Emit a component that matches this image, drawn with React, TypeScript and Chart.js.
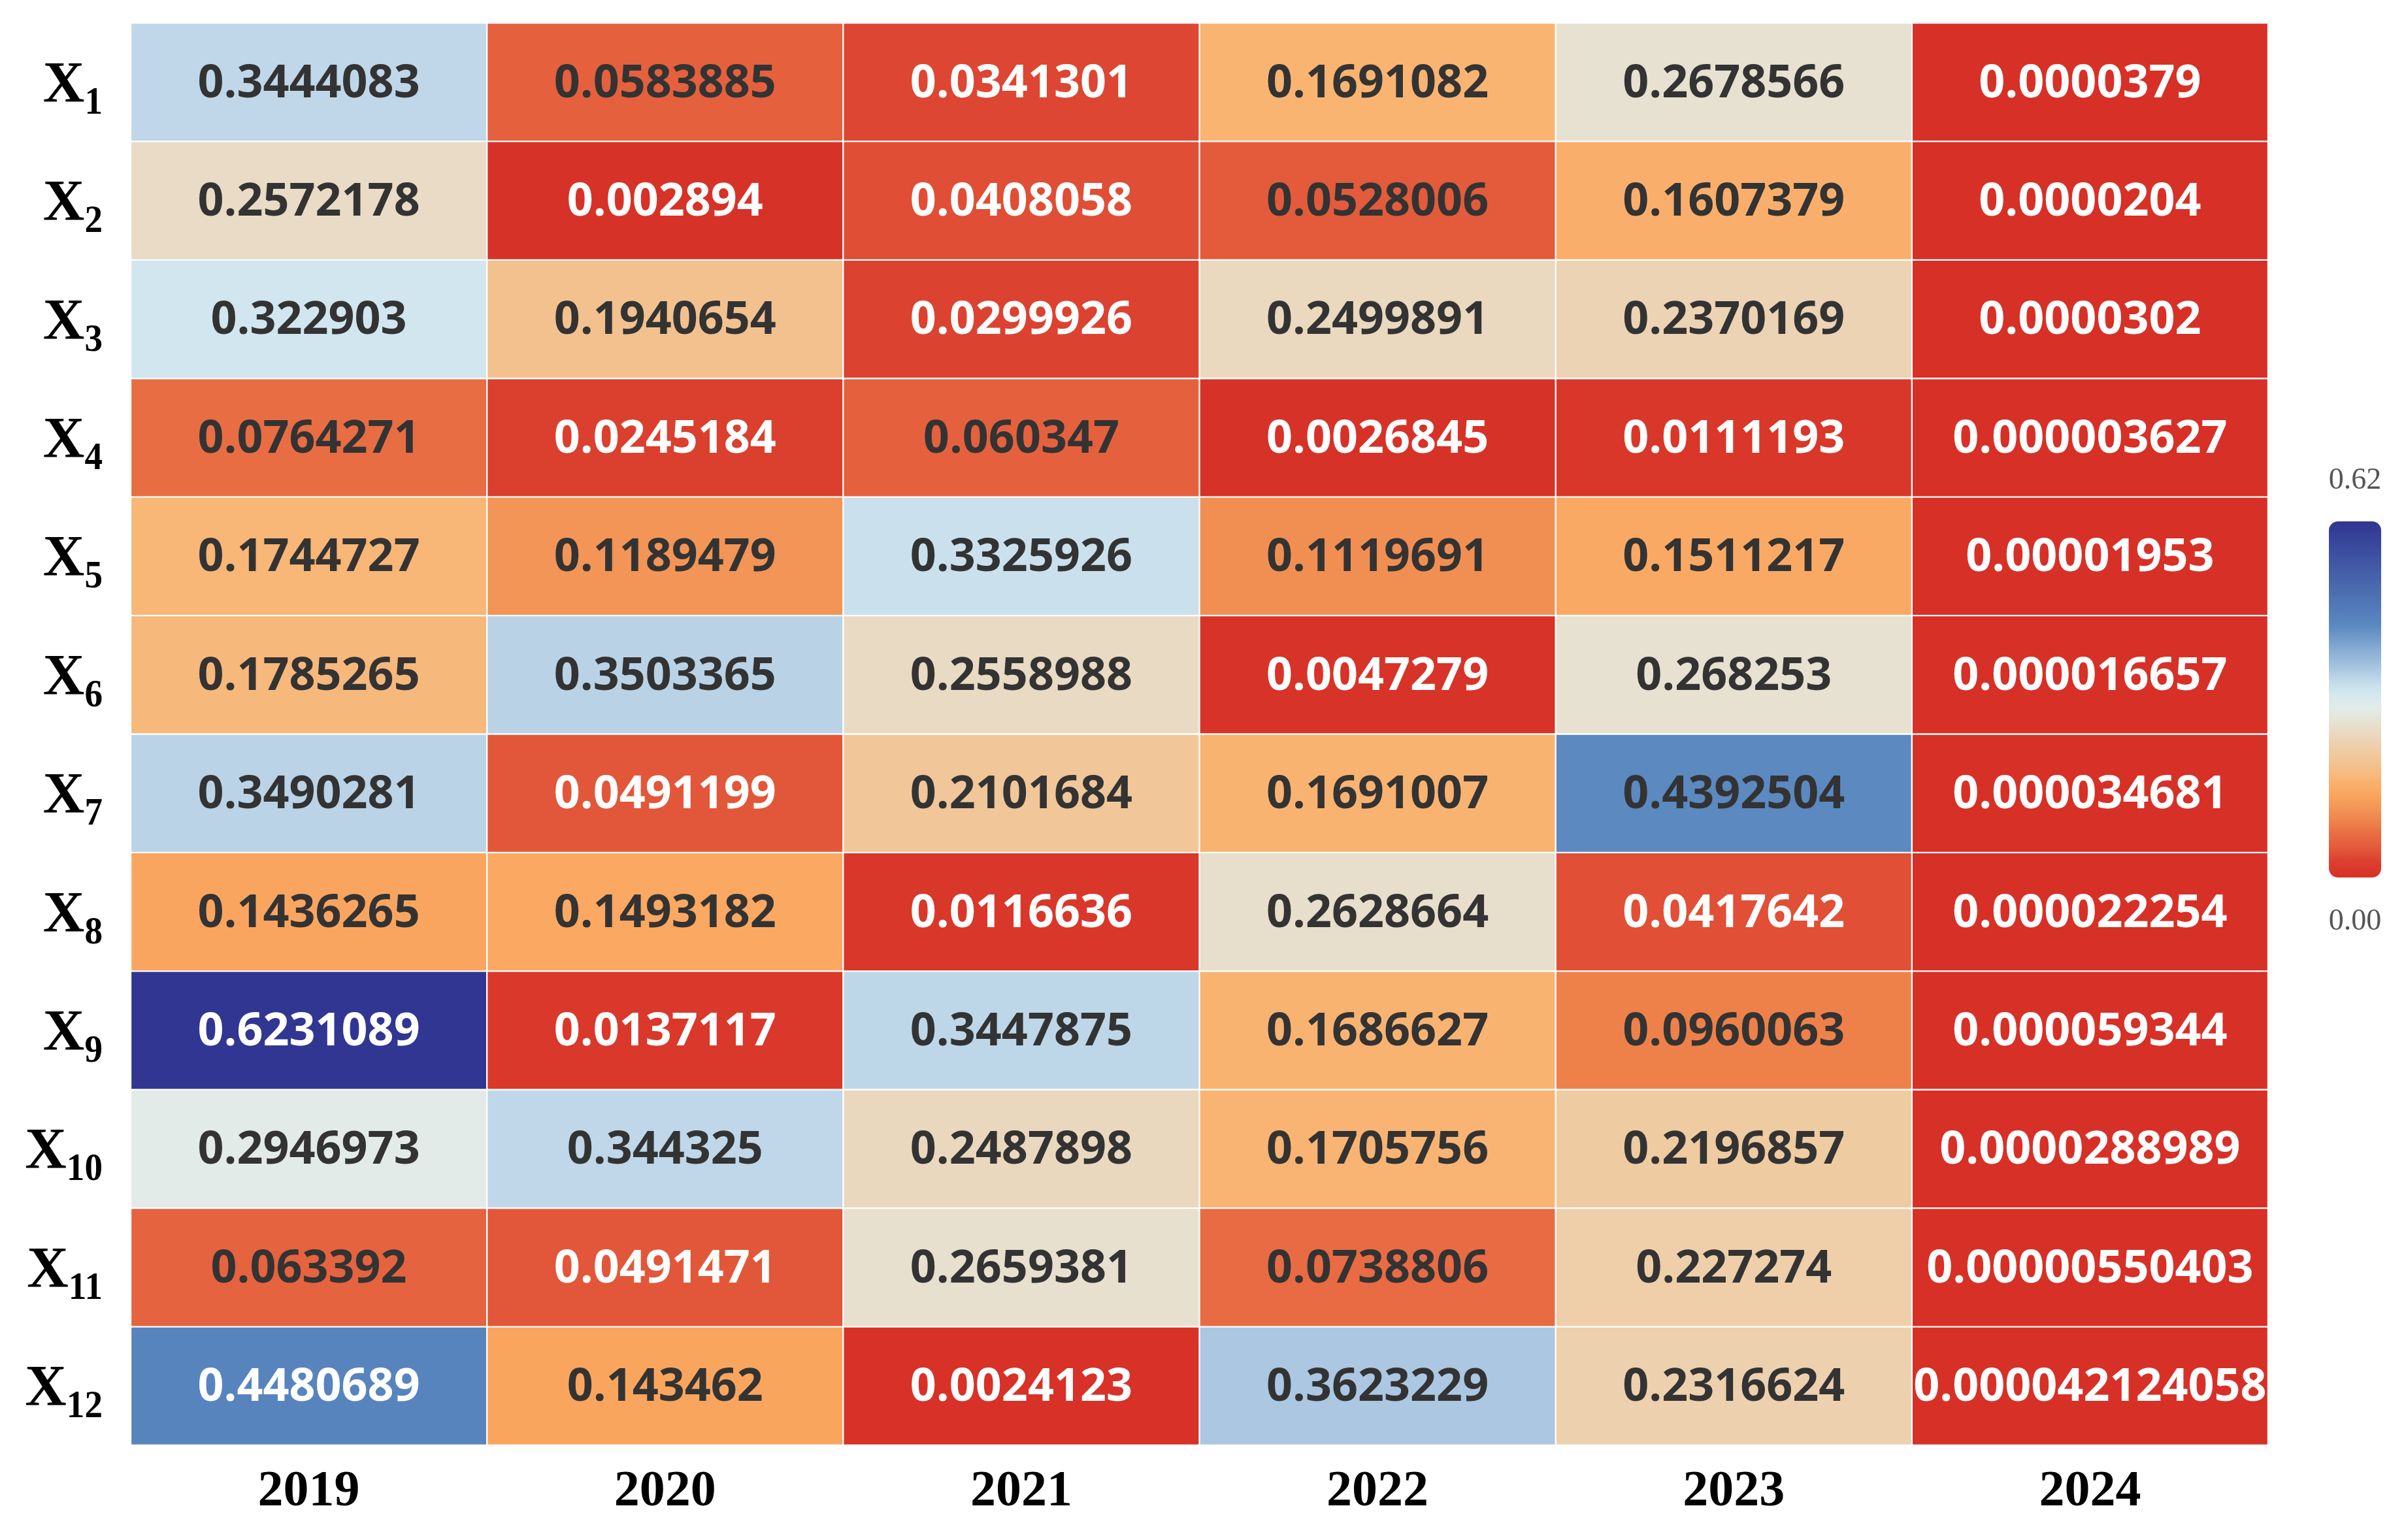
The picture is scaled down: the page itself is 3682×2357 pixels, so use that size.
import React, { useEffect, useRef } from "react";
import { Chart, registerables } from "chart.js";

Chart.register(...registerables);

// ---------- data ----------
const years = ["2019", "2020", "2021", "2022", "2023", "2024"];
const rowBase = "X";
const rowSubs = ["1", "2", "3", "4", "5", "6", "7", "8", "9", "10", "11", "12"];

const X1 = [0.3444083, 0.0583885, 0.0341301, 0.1691082, 0.2678566, 0.0000379];
const X2 = [0.2572178, 0.002894, 0.0408058, 0.0528006, 0.1607379, 0.0000204];
const X3 = [0.322903, 0.1940654, 0.0299926, 0.2499891, 0.2370169, 0.0000302];
const X4 = [0.0764271, 0.0245184, 0.060347, 0.0026845, 0.0111193, 0.000003627];
const X5 = [0.1744727, 0.1189479, 0.3325926, 0.1119691, 0.1511217, 0.00001953];
const X6 = [0.1785265, 0.3503365, 0.2558988, 0.0047279, 0.268253, 0.000016657];
const X7 = [0.3490281, 0.0491199, 0.2101684, 0.1691007, 0.4392504, 0.000034681];
const X8 = [0.1436265, 0.1493182, 0.0116636, 0.2628664, 0.0417642, 0.000022254];
const X9 = [0.6231089, 0.0137117, 0.3447875, 0.1686627, 0.0960063, 0.000059344];
const X10 = [0.2946973, 0.344325, 0.2487898, 0.1705756, 0.2196857, 0.0000288989];
const X11 = [0.063392, 0.0491471, 0.2659381, 0.0738806, 0.227274, 0.00000550403];
const X12 = [0.4480689, 0.143462, 0.0024123, 0.3623229, 0.2316624, 0.000042124058];

const rows = [X1, X2, X3, X4, X5, X6, X7, X8, X9, X10, X11, X12];

const colorMin = 0;
const colorMax = 0.62;
const colorbarTicks = ["0.00", "0.62"];

// ---------- colour map (style) ----------
const cmapStops: [number, number[]][] = [
  [0.0, [215, 48, 39]],
  [0.03, [220, 66, 48]],
  [0.055, [228, 93, 60]],
  [0.075, [233, 108, 67]],
  [0.096, [238, 129, 73]],
  [0.115, [241, 146, 85]],
  [0.145, [250, 166, 95]],
  [0.17, [249, 180, 114]],
  [0.195, [243, 193, 143]],
  [0.215, [240, 201, 156]],
  [0.235, [236, 210, 178]],
  [0.255, [233, 218, 195]],
  [0.27, [230, 226, 210]],
  [0.295, [227, 235, 233]],
  [0.32, [211, 231, 240]],
  [0.335, [200, 224, 236]],
  [0.35, [185, 210, 230]],
  [0.365, [168, 197, 225]],
  [0.44, [90, 136, 192]],
  [0.62, [48, 54, 145]],
];

function cmap(v: number): string {
  if (v <= cmapStops[0][0]) return `rgb(${cmapStops[0][1].join(",")})`;
  for (let i = 1; i < cmapStops.length; i++) {
    const [v1, c1] = cmapStops[i];
    const [v0, c0] = cmapStops[i - 1];
    if (v <= v1) {
      const t = (v - v0) / (v1 - v0);
      const c = c0.map((a, k) => Math.round(a + (c1[k] - a) * t));
      return `rgb(${c.join(",")})`;
    }
  }
  return `rgb(${cmapStops[cmapStops.length - 1][1].join(",")})`;
}

function textColor(v: number): string {
  return v < 0.05 || v > 0.445 ? "#ffffff" : "#333333";
}

// ---------- plugins ----------
const cellLabels = {
  id: "cellLabels",
  afterDatasetsDraw(chart: any) {
    const ctx = chart.ctx;
    ctx.save();
    ctx.font = '700 70px "Open Sans"';
    ctx.textAlign = "center";
    ctx.textBaseline = "middle";
    chart.data.datasets.forEach((_ds: any, i: number) => {
      const meta = chart.getDatasetMeta(i);
      meta.data.forEach((el: any, j: number) => {
        const v = rows[i][j];
        const p = el.getProps(["x", "y", "base"], true);
        ctx.fillStyle = textColor(v);
        ctx.fillText(String(v), p.x, (p.y + p.base) / 2 + 3);
      });
    });
    ctx.restore();
  },
};

const rowLabels = {
  id: "rowLabels",
  afterDraw(chart: any) {
    const ctx = chart.ctx;
    const yScale = chart.scales.y;
    const right = chart.chartArea.left - 43;
    ctx.save();
    ctx.fillStyle = "#000000";
    ctx.textBaseline = "alphabetic";
    ctx.textAlign = "left";
    rowSubs.forEach((sub, r) => {
      const yc = yScale.getPixelForValue(r + 0.5);
      const baseline = yc + 29;
      ctx.font = 'bold 88px "Liberation Serif"';
      const wX = ctx.measureText(rowBase).width;
      ctx.font = 'bold 60px "Liberation Serif"';
      const sx = 0.92;
      const wS = ctx.measureText(sub).width * sx;
      const x0 = right - wS - wX;
      ctx.font = 'bold 88px "Liberation Serif"';
      ctx.fillText(rowBase, x0, baseline);
      ctx.save();
      ctx.translate(x0 + wX, baseline + 19);
      ctx.scale(sx, 1);
      ctx.font = 'bold 60px "Liberation Serif"';
      ctx.fillText(sub, 0, 0);
      ctx.restore();
    });
    ctx.restore();
  },
};

const colorbar = {
  id: "colorbar",
  afterDraw(chart: any) {
    const ctx = chart.ctx;
    const x = 3564, w = 80, top = 798, bottom = 1343;
    ctx.save();
    const g = ctx.createLinearGradient(0, bottom, 0, top);
    cmapStops.forEach(([v]) => {
      g.addColorStop((v - colorMin) / (colorMax - colorMin), cmap(v));
    });
    ctx.fillStyle = g;
    ctx.beginPath();
    ctx.roundRect(x, top, w, bottom - top, 14);
    ctx.fill();
    ctx.fillStyle = "#555555";
    ctx.font = '46px "Liberation Serif"';
    ctx.textAlign = "center";
    ctx.textBaseline = "middle";
    ctx.fillText(colorbarTicks[1], x + w / 2, top - 62);
    ctx.fillText(colorbarTicks[0], x + w / 2, bottom + 68);
    ctx.restore();
  },
};

export default function App() {
  const ref = useRef<HTMLCanvasElement | null>(null);

  useEffect(() => {
    if (!ref.current) return;
    const datasets = rows.map((vals, r) => ({
      label: rowBase + rowSubs[r],
      data: years.map(() => [r, r + 1]),
      backgroundColor: vals.map((v) => cmap(v)),
      borderColor: "#ffffff",
      borderWidth: 1.5,
      borderSkipped: false,
      barPercentage: 1,
      categoryPercentage: 1,
      grouped: false,
    }));
    const chart = new Chart(ref.current, {
      type: "bar",
      data: { labels: years, datasets: datasets as any },
      options: {
        animation: false,
        responsive: false,
        devicePixelRatio: 1,
        layout: { padding: { left: 200, right: 211, top: 35, bottom: 0 } },
        plugins: {
          legend: { display: false },
          tooltip: { enabled: false },
          title: { display: false },
        },
        scales: {
          x: {
            type: "category",
            position: "bottom",
            grid: { display: false, drawTicks: false },
            border: { display: false },
            ticks: {
              color: "#000000",
              font: { family: "Liberation Serif", weight: "bold", size: 78 },
              padding: 25,
              maxRotation: 0,
            },
            afterFit: (s: any) => {
              s.height = 145;
            },
          },
          y: {
            type: "linear",
            min: 0,
            max: 12,
            reverse: true,
            display: false,
          },
        },
      },
      plugins: [cellLabels, rowLabels, colorbar],
    });
    return () => chart.destroy();
  }, []);

  return (
    <div
      style={{
        position: "fixed",
        left: 0,
        top: 0,
        width: 3682,
        height: 2357,
        background: "#ffffff",
      }}
    >
      <canvas ref={ref} width={3682} height={2357} style={{ width: 3682, height: 2357 }} />
    </div>
  );
}
